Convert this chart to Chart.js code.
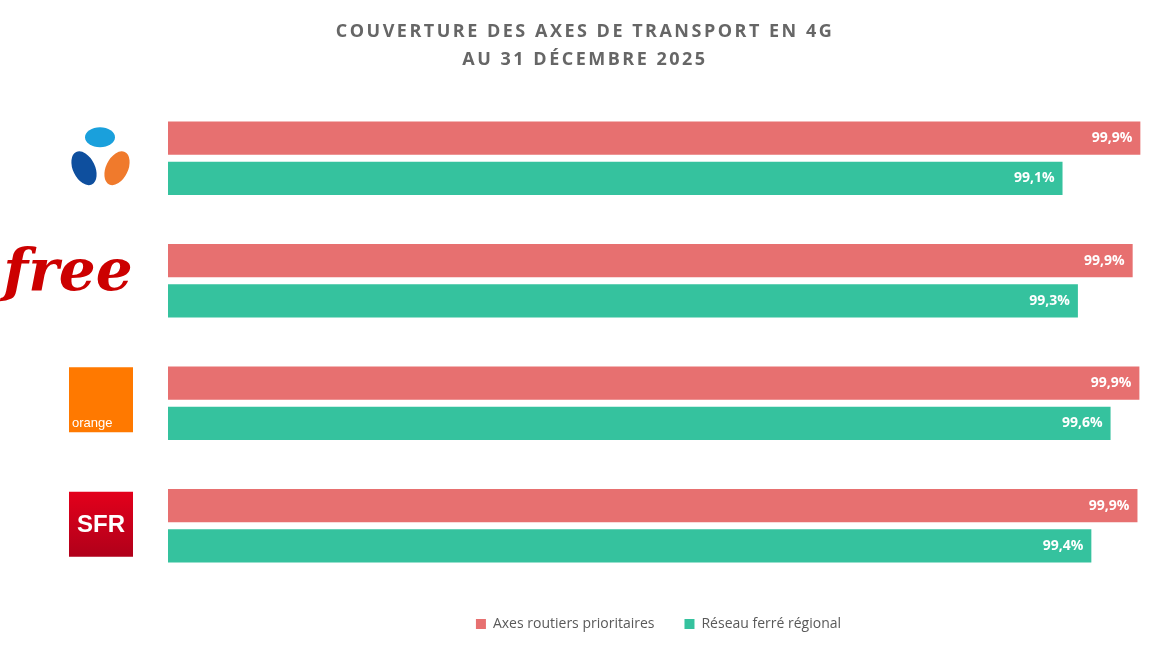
<!DOCTYPE html>
<html>
<head>
<meta charset="utf-8">
<script src="https://cdn.jsdelivr.net/npm/chart.js@4"></script>
<style>
  body { margin: 0; background: #fff; }
  #wrap { position: relative; width: 1170px; height: 647px; }
  #title { position: absolute; top: 16px; left: 0; width: 100%; text-align: center;
    font-family: "Open Sans", sans-serif; font-weight: bold; font-size: 18px;
    letter-spacing: 2.5px; color: #666; line-height: 28px; }
</style>
</head>
<body>
<div id="wrap">
  <div id="title">COUVERTURE DES AXES DE TRANSPORT EN 4G<br>AU 31 DÉCEMBRE 2025</div>
  <canvas id="myChart" width="1170" height="647"></canvas>
</div>
<script>
// opérateurs (logos dessinés à gauche)
const operators = ["Bouygues Telecom", "Free", "Orange", "SFR"];
const routeValues = [99.91, 99.83, 99.9, 99.88];
const railValues = [99.1, 99.26, 99.6, 99.4];
const routeLabels = ["99,9%", "99,9%", "99,9%", "99,9%"];
const railLabels = ["99,1%", "99,3%", "99,6%", "99,4%"];

// étiquettes blanches au bout des barres
const barLabels = {
  id: "barLabels",
  afterDatasetsDraw(chart) {
    const ctx = chart.ctx;
    ctx.save();
    ctx.font = "bold 14px 'Open Sans', sans-serif";
    ctx.fillStyle = "#fff";
    ctx.textAlign = "right";
    ctx.textBaseline = "middle";
    chart.data.datasets.forEach((ds, i) => {
      chart.getDatasetMeta(i).data.forEach((bar, j) => {
        ctx.fillText(ds.labelsText[j], bar.x - 8, bar.y);
      });
    });
    ctx.restore();
  },
};

// logos des opérateurs
const logos = {
  id: "logos",
  afterDraw(chart) {
    const ctx = chart.ctx;
    const y = chart.scales.y;
    ctx.save();
    // Bouygues
    let c = y.getPixelForValue(0);
    ctx.fillStyle = "#1AA0DC";
    ctx.beginPath(); ctx.ellipse(100, c - 21, 15, 10, 0, 0, Math.PI * 2); ctx.fill();
    ctx.fillStyle = "#0E4F9E";
    ctx.beginPath(); ctx.ellipse(84, c + 10, 11, 18, -0.45, 0, Math.PI * 2); ctx.fill();
    ctx.fillStyle = "#F07A2C";
    ctx.beginPath(); ctx.ellipse(117, c + 10, 11, 18, 0.45, 0, Math.PI * 2); ctx.fill();
    // Free
    c = y.getPixelForValue(1);
    ctx.fillStyle = "#CC0000";
    ctx.font = "italic bold 58px 'DejaVu Serif', serif";
    ctx.textAlign = "center";
    ctx.textBaseline = "middle";
    ctx.fillText("free", 68, c - 6);
    // Orange
    c = y.getPixelForValue(2);
    ctx.fillStyle = "#FF7900";
    ctx.fillRect(69, c - 36, 64, 65);
    ctx.fillStyle = "#fff";
    ctx.font = "13px 'Liberation Sans', sans-serif";
    ctx.textAlign = "left";
    ctx.textBaseline = "alphabetic";
    ctx.fillText("orange", 72, c + 24);
    // SFR
    c = y.getPixelForValue(3);
    const g = ctx.createLinearGradient(0, c - 34, 0, c + 31);
    g.addColorStop(0, "#E3001B");
    g.addColorStop(1, "#B0001A");
    ctx.fillStyle = g;
    ctx.fillRect(69, c - 34, 64, 65);
    ctx.fillStyle = "#fff";
    ctx.font = "bold 24px 'Liberation Sans', sans-serif";
    ctx.textAlign = "center";
    ctx.textBaseline = "middle";
    ctx.fillText("SFR", 101, c);
    ctx.restore();
  },
};

const ctx = document.getElementById("myChart").getContext("2d");
new Chart(ctx, {
  type: "bar",
  data: {
    labels: operators,
    datasets: [
      {
        label: "Axes routiers prioritaires",
        data: routeValues,
        labelsText: routeLabels,
        backgroundColor: "#E77070",
        categoryPercentage: 0.656,
        barPercentage: 0.825,
      },
      {
        label: "Réseau ferré régional",
        data: railValues,
        labelsText: railLabels,
        backgroundColor: "#35C29E",
        categoryPercentage: 0.656,
        barPercentage: 0.825,
      },
    ],
  },
  options: {
    indexAxis: "y",
    responsive: false,
    animation: false,
    layout: { padding: { left: 168, right: 21, top: 97, bottom: 6 } },
    scales: {
      x: { min: 89.79, max: 100, display: false },
      y: { display: false },
    },
    plugins: {
      legend: {
        position: "bottom",
        labels: {
          boxWidth: 10, boxHeight: 10, padding: 30,
          color: "#595959",
          font: { family: "'Open Sans', sans-serif", size: 14 },
        },
      },
      tooltip: { enabled: false },
    },
  },
  plugins: [barLabels, logos],
});
</script>
</body>
</html>
